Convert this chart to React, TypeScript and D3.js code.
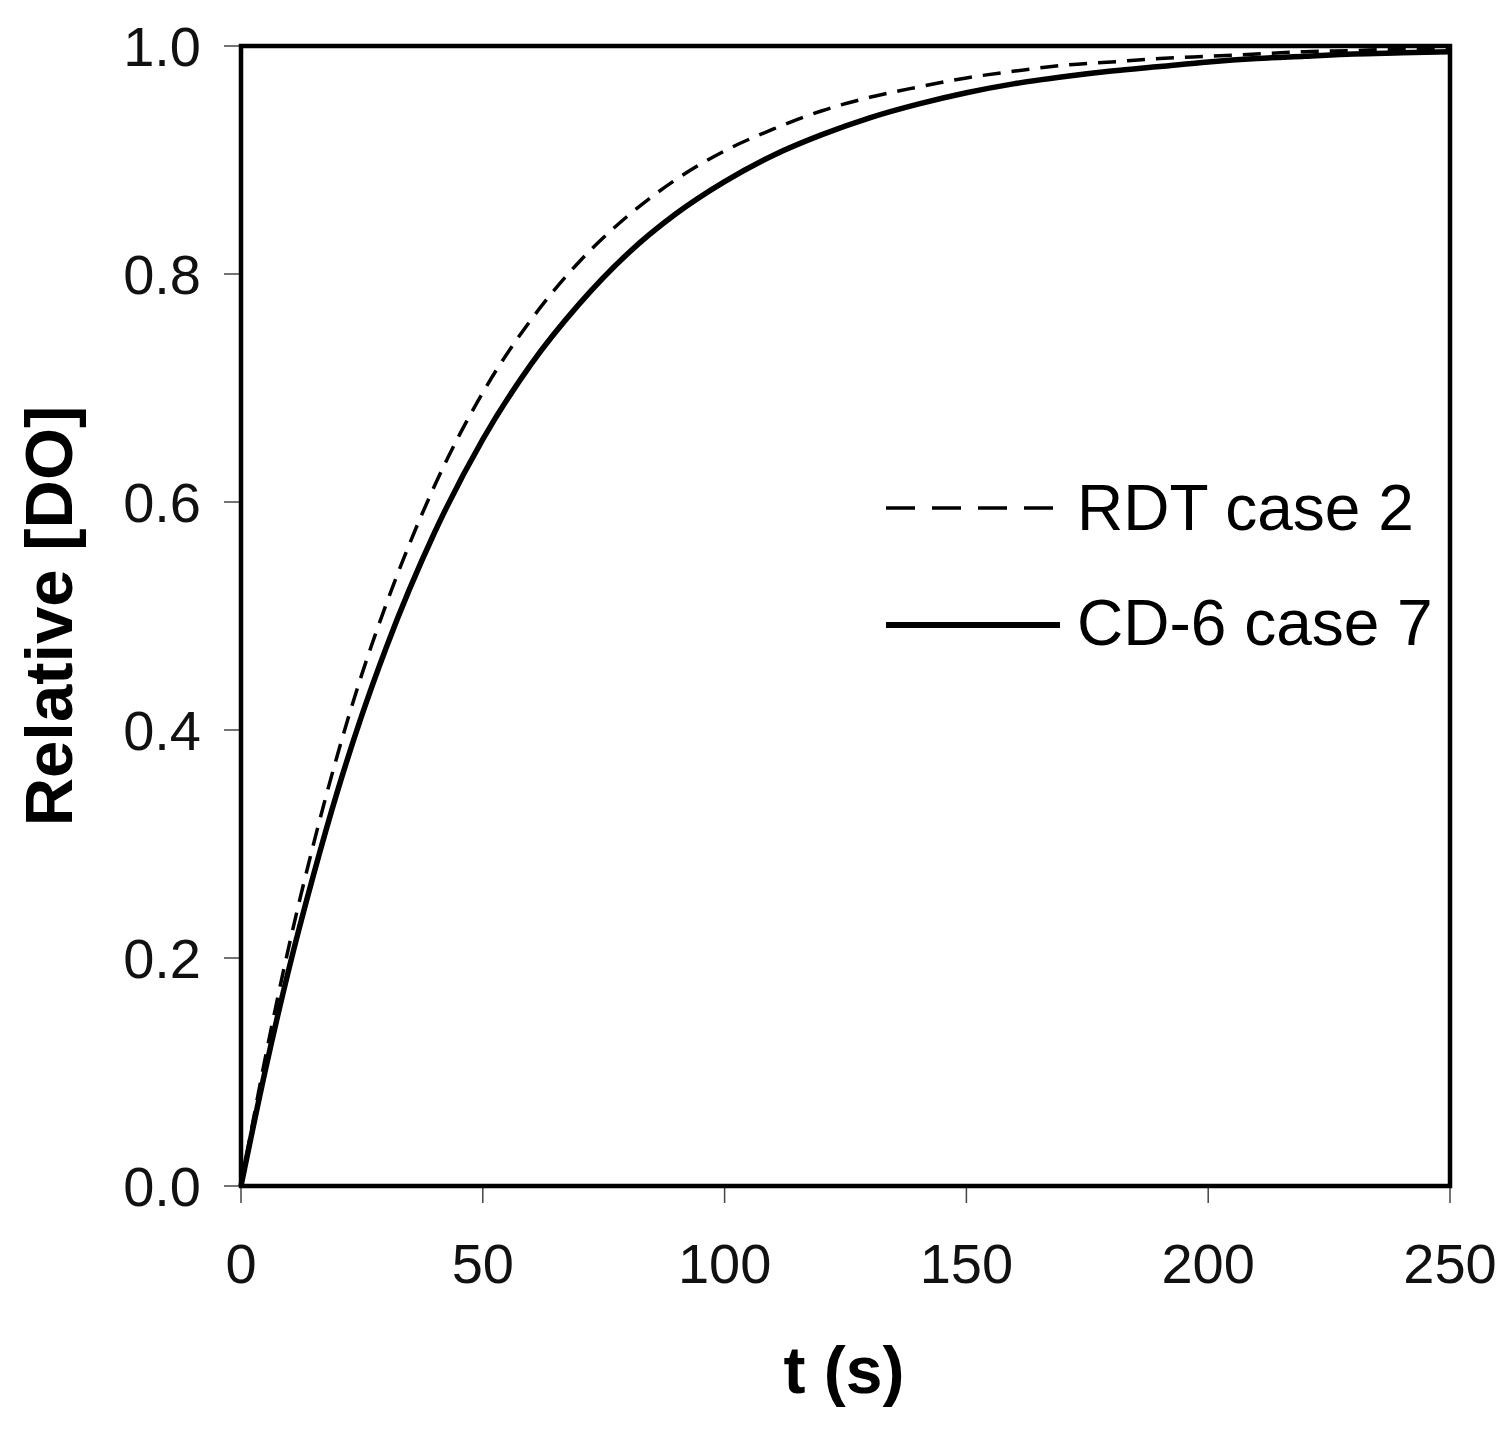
import React from "react";
import * as d3 from "d3";

// time axis (s)
const times = [0, 5, 10, 15, 20, 25, 30, 40, 50, 60, 70, 80, 90, 100, 110, 120, 130, 140, 150, 160, 170, 180, 190, 200, 210, 220, 230, 240, 250];

// RDT case 2 (dashed)
const rdtCase2 = [0, 0.112, 0.212, 0.3, 0.379, 0.449, 0.51, 0.614, 0.696, 0.76, 0.811, 0.851, 0.883, 0.908, 0.927, 0.943, 0.955, 0.964, 0.972, 0.978, 0.983, 0.986, 0.989, 0.991, 0.993, 0.995, 0.996, 0.997, 0.997];

// CD-6 case 7 (solid)
const cd6Case7 = [0, 0.101, 0.192, 0.273, 0.347, 0.413, 0.472, 0.573, 0.655, 0.721, 0.774, 0.818, 0.853, 0.881, 0.904, 0.922, 0.937, 0.949, 0.959, 0.967, 0.973, 0.978, 0.982, 0.986, 0.989, 0.991, 0.993, 0.994, 0.995];

const xTicks = [0, 50, 100, 150, 200, 250];
const yTicks = [0, 0.2, 0.4, 0.6, 0.8, 1.0];

const FONT = "'Liberation Sans', Arial, sans-serif";

export default function App() {
  const width = 1511;
  const height = 1429;

  const x = d3.scaleLinear().domain([0, 250]).range([241, 1450]);
  const y = d3.scaleLinear().domain([0, 1]).range([1186, 46]);

  const line = d3
    .line<number>()
    .x((_, i) => x(times[i]))
    .y((d) => y(d))
    .curve(d3.curveMonotoneX);

  const [x0, x1] = x.range();
  const [y0, y1] = y.range();

  return (
    <svg
      width={width}
      height={height}
      style={{ position: "absolute", left: 0, top: 0, background: "#fff" }}
      fontFamily={FONT}
    >
      {/* ticks */}
      {xTicks.map((t) => (
        <g key={"xt" + t}>
          <line x1={x(t)} x2={x(t)} y1={y0} y2={y0 + 17} stroke="#444" strokeWidth={1.5} />
          <text x={x(t)} y={1283} fontSize={56} textAnchor="middle" fill="#111">
            {t}
          </text>
        </g>
      ))}
      {yTicks.map((t) => (
        <g key={"yt" + t}>
          <line x1={x0 - 17} x2={x0} y1={y(t)} y2={y(t)} stroke="#444" strokeWidth={1.5} />
          <text x={201} y={y(t)} dy="0.36em" fontSize={56} textAnchor="end" fill="#111">
            {t.toFixed(1)}
          </text>
        </g>
      ))}

      {/* curves */}
      <path d={line(rdtCase2) || ""} fill="none" stroke="#000" strokeWidth={3.5} strokeDasharray="18 11" />
      <path d={line(cd6Case7) || ""} fill="none" stroke="#000" strokeWidth={5.5} strokeLinejoin="round" />

      {/* frame */}
      <rect x={x0} y={y1} width={x1 - x0} height={y0 - y1} fill="none" stroke="#000" strokeWidth={4.5} />

      {/* legend */}
      <line x1={886} x2={1058} y1={508} y2={508} stroke="#000" strokeWidth={3.5} strokeDasharray="29 17" />
      <text x={1077} y={530} fontSize={64} fill="#000">RDT case 2</text>
      <line x1={886} x2={1060} y1={625} y2={625} stroke="#000" strokeWidth={6} />
      <text x={1077} y={645} fontSize={64} fill="#000">CD-6 case 7</text>

      {/* axis titles */}
      <text x={844} y={1393} fontSize={66} fontWeight="bold" textAnchor="middle" fill="#000">
        t (s)
      </text>
      <text
        transform="translate(72,616) rotate(-90)"
        fontSize={67}
        fontWeight="bold"
        textAnchor="middle"
        fill="#000"
      >
        Relative [DO]
      </text>
    </svg>
  );
}
